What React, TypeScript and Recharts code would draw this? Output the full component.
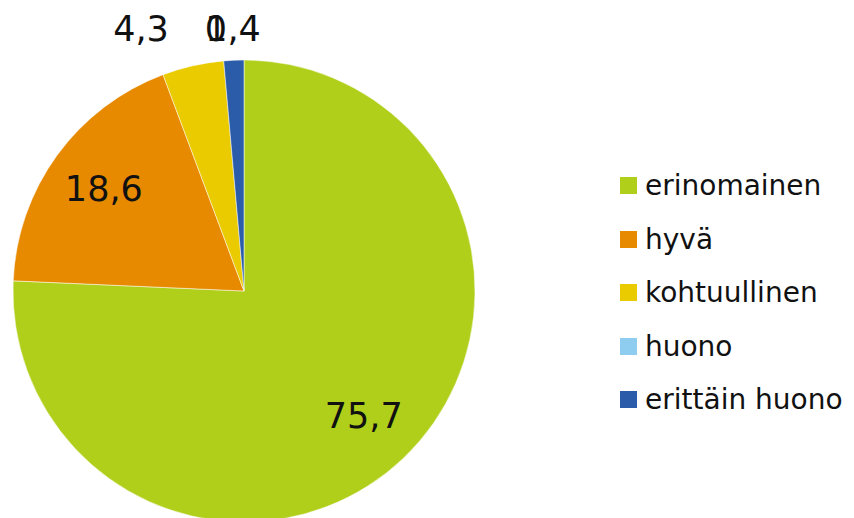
import React from 'react';
import { PieChart, Pie, Cell, Legend } from 'recharts';

const categories = ['erinomainen', 'hyvä', 'kohtuullinen', 'huono', 'erittäin huono'];
const values = [75.7, 18.6, 4.3, 0, 1.4];
const labels = ['75,7', '18,6', '4,3', '0', '1,4'];
const colors = ['#b0cf1a', '#e88a00', '#eacb00', '#8ecdf0', '#2a5caa'];

// horizontal nudges for the small slices whose labels sit above the pie
const outsideDx = [0, 0, -103, -28, -11];

const data = categories.map((name, i) => ({ name, value: values[i] }));

const FONT = '"DejaVu Sans", sans-serif';

const renderLabel = (props: any) => {
  const { cx, cy, midAngle, outerRadius, index } = props;
  const RAD = Math.PI / 180;
  let x: number;
  let y: number;
  if (values[index] > 10) {
    const r = outerRadius * 0.75;
    x = cx + r * Math.cos(-midAngle * RAD);
    y = cy + r * Math.sin(-midAngle * RAD);
  } else {
    x = cx + outsideDx[index];
    y = cy - outerRadius - 31;
  }
  return (
    <text
      x={x}
      y={y}
      textAnchor="middle"
      dominantBaseline="central"
      fill="#111"
      fontSize={35}
      fontFamily={FONT}
    >
      {labels[index]}
    </text>
  );
};

const CustomLegend = () => (
  <div style={{ fontFamily: FONT }}>
    {categories.map((name, i) => (
      <div key={name} style={{ display: 'flex', alignItems: 'center', height: 53.5 }}>
        <div style={{ width: 17, height: 17, backgroundColor: colors[i], marginRight: 8 }} />
        <span style={{ fontSize: 28, color: '#111', whiteSpace: 'nowrap' }}>{name}</span>
      </div>
    ))}
  </div>
);

export default function App() {
  return (
    <div style={{ position: 'absolute', left: 0, top: 0, width: 854, height: 518, background: '#fff' }}>
      <PieChart width={854} height={518} margin={{ top: 0, right: 0, bottom: 0, left: 0 }}>
        <Pie
          data={data}
          dataKey="value"
          nameKey="name"
          cx={244}
          cy={291}
          outerRadius={231}
          startAngle={90}
          endAngle={-270}
          stroke="#fff"
          strokeWidth={0.5}
          label={renderLabel}
          labelLine={false}
          isAnimationActive={false}
        >
          {data.map((d, i) => (
            <Cell key={d.name} fill={colors[i]} />
          ))}
        </Pie>
        <Legend
          content={<CustomLegend />}
          layout="vertical"
          wrapperStyle={{ position: 'absolute', left: 620, top: 159, width: 234 }}
        />
      </PieChart>
    </div>
  );
}
